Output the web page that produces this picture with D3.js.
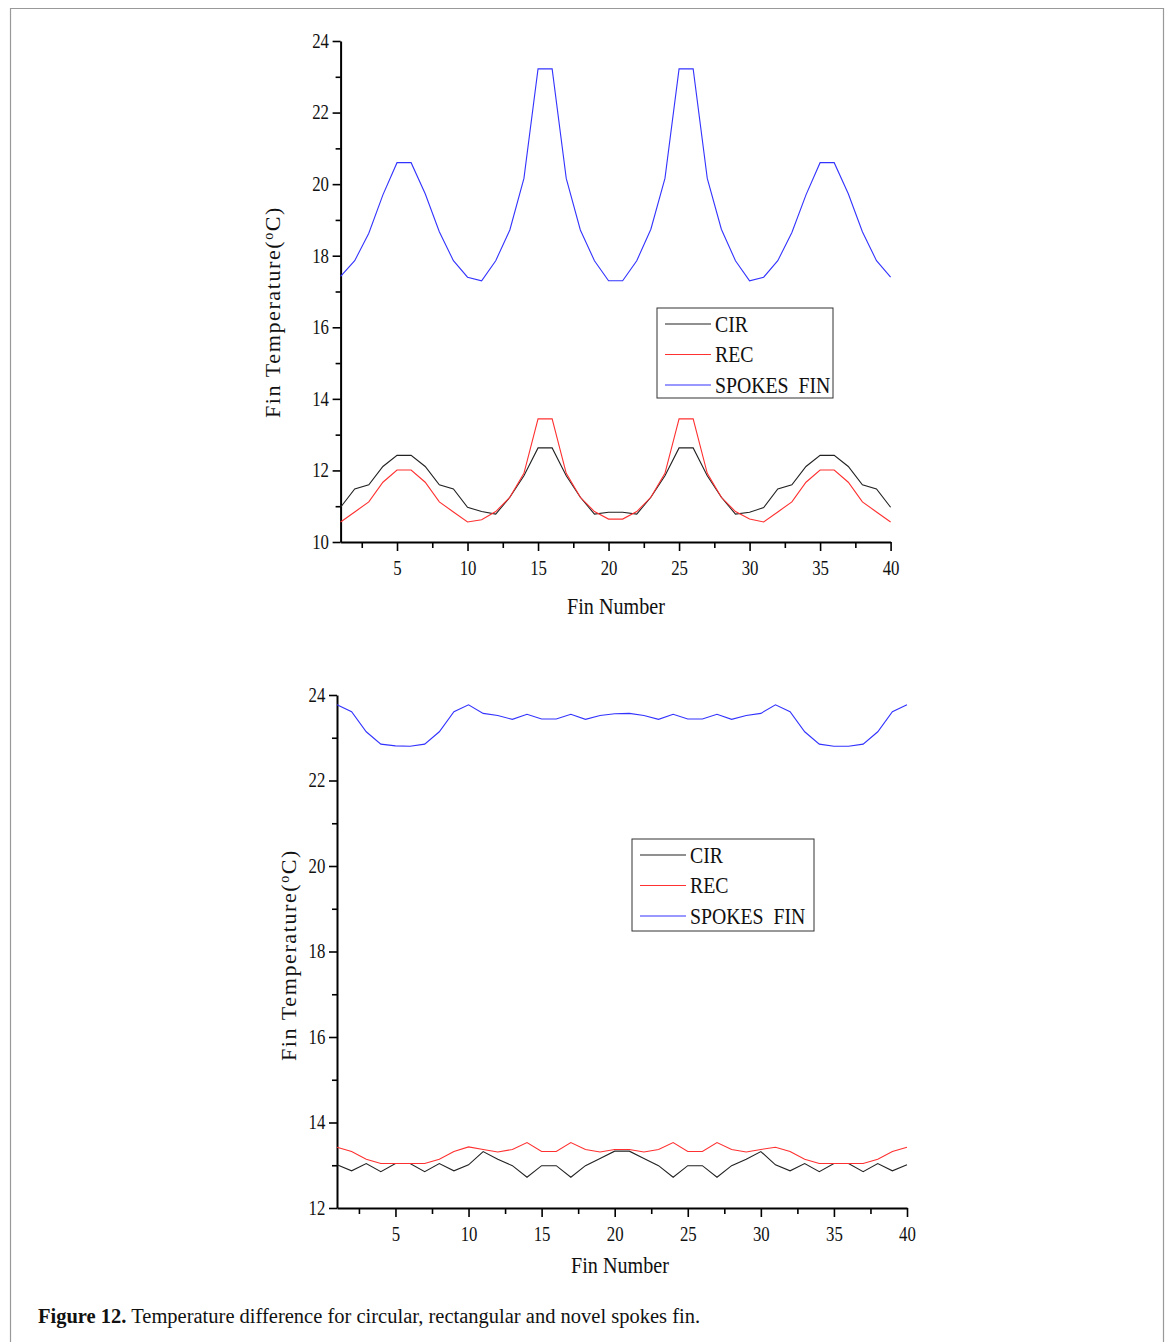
<!DOCTYPE html>
<meta charset="utf-8">
<head>
  <title>Figure 12</title>
  <style>
    body { margin: 0; background: #fff; }
    svg text { font-family: "Liberation Serif", "Times New Roman", serif; fill: #111; }
    .axis path, .axis line { stroke: #000; }
    .axis path { stroke-width: 2; }
    .axis line { stroke-width: 1.6; }
    .line { fill: none; stroke-width: 1.1; }
    .narrow { transform-box: fill-box; transform-origin: center; transform: scaleX(0.84); }
    .narrowl { transform-box: fill-box; transform-origin: left; transform: scaleX(0.86); }
  </style>
  <script src="https://d3js.org/d3.v7.min.js"></script>
</head>
<body>
<svg id="fig" width="1171" height="1342"></svg>
<script>
// fin numbers 1..40
var fins = d3.range(1, 41);

// top panel
var topCir = [10.97, 11.48, 11.60, 12.11, 12.42, 12.42, 12.11, 11.60, 11.48, 10.97,
  10.85, 10.78, 11.25, 11.85, 12.63, 12.63, 11.85, 11.25, 10.78, 10.83,
  10.83, 10.78, 11.25, 11.85, 12.63, 12.63, 11.85, 11.25, 10.78, 10.83,
  10.96, 11.48, 11.60, 12.11, 12.42, 12.42, 12.11, 11.60, 11.48, 10.97];
var topRec = [10.56, 10.84, 11.12, 11.67, 12.01, 12.01, 11.67, 11.12, 10.84, 10.56,
  10.62, 10.85, 11.25, 11.92, 13.44, 13.44, 11.92, 11.25, 10.85, 10.64,
  10.64, 10.85, 11.25, 11.92, 13.44, 13.44, 11.92, 11.25, 10.85, 10.64,
  10.56, 10.84, 11.12, 11.67, 12.01, 12.01, 11.67, 11.12, 10.84, 10.56];
var topSpokes = [17.42, 17.86, 18.63, 19.70, 20.60, 20.60, 19.73, 18.67, 17.86, 17.40,
  17.30, 17.86, 18.72, 20.16, 23.22, 23.22, 20.16, 18.72, 17.86, 17.30,
  17.30, 17.86, 18.74, 20.16, 23.22, 23.22, 20.16, 18.74, 17.86, 17.30,
  17.40, 17.86, 18.65, 19.70, 20.60, 20.60, 19.73, 18.67, 17.86, 17.40];

// bottom panel
var botCir = [13.01, 12.87, 13.04, 12.85, 13.04, 13.04, 12.85, 13.04, 12.87, 13.01,
  13.32, 13.14, 12.99, 12.72, 12.99, 12.99, 12.72, 12.99, 13.16, 13.33,
  13.33, 13.16, 12.99, 12.72, 12.99, 12.99, 12.72, 12.99, 13.14, 13.32,
  13.01, 12.87, 13.04, 12.85, 13.04, 13.04, 12.85, 13.04, 12.87, 13.01];
var botRec = [13.42, 13.32, 13.14, 13.04, 13.04, 13.04, 13.04, 13.14, 13.32, 13.43,
  13.37, 13.31, 13.37, 13.53, 13.32, 13.32, 13.53, 13.37, 13.31, 13.37,
  13.37, 13.31, 13.37, 13.53, 13.32, 13.32, 13.53, 13.37, 13.31, 13.37,
  13.42, 13.32, 13.14, 13.04, 13.04, 13.04, 13.04, 13.14, 13.32, 13.42];
var botSpokes = [23.77, 23.61, 23.14, 22.85, 22.81, 22.80, 22.85, 23.14, 23.61, 23.77,
  23.57, 23.52, 23.43, 23.55, 23.44, 23.44, 23.55, 23.43, 23.52, 23.56,
  23.57, 23.52, 23.43, 23.55, 23.44, 23.44, 23.55, 23.43, 23.52, 23.57,
  23.77, 23.61, 23.14, 22.85, 22.80, 22.80, 22.85, 23.14, 23.61, 23.77];

var seriesNames = ["CIR", "REC", "SPOKES  FIN"];
var seriesColors = ["#222", "#ff3030", "#3333ff"];
var xMajor = [5, 10, 15, 20, 25, 30, 35, 40];

var svg = d3.select("#fig");

// frame around the figure
svg.append("path")
  .attr("d", "M10.5,1342 V8.5 H1163.5 V1342")
  .attr("fill", "none")
  .attr("stroke", "#999")
  .attr("stroke-width", 1.2);

function drawPanel(p) {
  var x = d3.scaleLinear().domain([1, 40]).range(p.xr);
  var y = d3.scaleLinear().domain(p.yd).range(p.yr);
  var g = svg.append("g");

  // minor ticks
  var xMinor = d3.range(2.5, 40, 5);
  var yMinor = d3.range(p.yd[0] + 1, p.yd[1], 2);
  g.append("g").attr("class", "axis")
    .attr("transform", "translate(0," + p.yr[0] + ")")
    .call(d3.axisBottom(x).tickValues(xMinor).tickSize(6).tickFormat(""))
    .select(".domain").remove();
  g.append("g").attr("class", "axis")
    .attr("transform", "translate(" + p.xr[0] + ",0)")
    .call(d3.axisLeft(y).tickValues(yMinor).tickSize(5).tickFormat(""))
    .select(".domain").remove();

  var xa = g.append("g").attr("class", "axis")
    .attr("transform", "translate(0," + p.yr[0] + ")")
    .call(d3.axisBottom(x).tickValues(xMajor).tickSizeInner(9).tickSizeOuter(0).tickPadding(10));
  var ya = g.append("g").attr("class", "axis")
    .attr("transform", "translate(" + p.xr[0] + ",0)")
    .call(d3.axisLeft(y).tickValues(d3.range(p.yd[0], p.yd[1] + 1, 2)).tickSizeInner(8).tickSizeOuter(0).tickPadding(2));
  xa.selectAll("text").attr("font-size", 20).attr("fill", "#111").attr("class", "narrow");
  ya.selectAll("text").attr("font-size", 20).attr("fill", "#111").attr("class", "narrow");

  // lines
  var line = d3.line().x(function (d, i) { return x(fins[i]); }).y(function (d) { return y(d); });
  p.data.forEach(function (vals, k) {
    g.append("path").attr("class", "line")
      .attr("d", line(vals))
      .attr("stroke", seriesColors[k]);
  });

  // axis titles
  g.append("text")
    .attr("transform", "translate(" + p.yTitle[0] + "," + p.yTitle[1] + ") rotate(-90)")
    .attr("text-anchor", "middle")
    .attr("font-size", 22)
    .attr("letter-spacing", 1.6)
    .text("Fin Temperature(")
    .append("tspan").attr("baseline-shift", "super").attr("font-size", 14).text("o")
    .select(function () { return this.parentNode; })
    .append("tspan").text("C)");
  g.append("text")
    .attr("x", p.xTitle[0]).attr("y", p.xTitle[1])
    .attr("text-anchor", "middle")
    .attr("font-size", 24)
    .attr("class", "narrow")
    .text("Fin Number");

  // legend
  var lg = g.append("g").attr("transform", "translate(" + p.legend[0] + "," + p.legend[1] + ")");
  lg.append("rect").attr("width", p.legend[2]).attr("height", p.legend[3])
    .attr("fill", "#fff").attr("stroke", "#333").attr("stroke-width", 1);
  seriesNames.forEach(function (name, k) {
    var yy = 16 + k * 30.5;
    lg.append("line").attr("x1", 8).attr("x2", 54).attr("y1", yy).attr("y2", yy)
      .attr("stroke", seriesColors[k]).attr("stroke-width", 1.1);
    lg.append("text").attr("x", 58).attr("y", yy + 8)
      .attr("font-size", 23).attr("class", "narrowl")
      .style("white-space", "pre").text(name);
  });
}

drawPanel({
  xr: [340.6, 890.6], yd: [10, 24], yr: [542, 41],
  data: [topCir, topRec, topSpokes],
  yTitle: [280, 312], xTitle: [616, 614],
  legend: [657, 308, 176, 90]
});

drawPanel({
  xr: [337, 907], yd: [12, 24], yr: [1208, 695],
  data: [botCir, botRec, botSpokes],
  yTitle: [296, 955], xTitle: [620, 1273],
  legend: [632, 839, 182, 92]
});

// caption
var cap = svg.append("text").attr("x", 38).attr("y", 1323).attr("font-size", 20.5);
cap.append("tspan").attr("font-weight", "bold").text("Figure 12.");
cap.append("tspan").text(" Temperature difference for circular, rectangular and novel spokes fin.");
</script>
</body>
</html>
